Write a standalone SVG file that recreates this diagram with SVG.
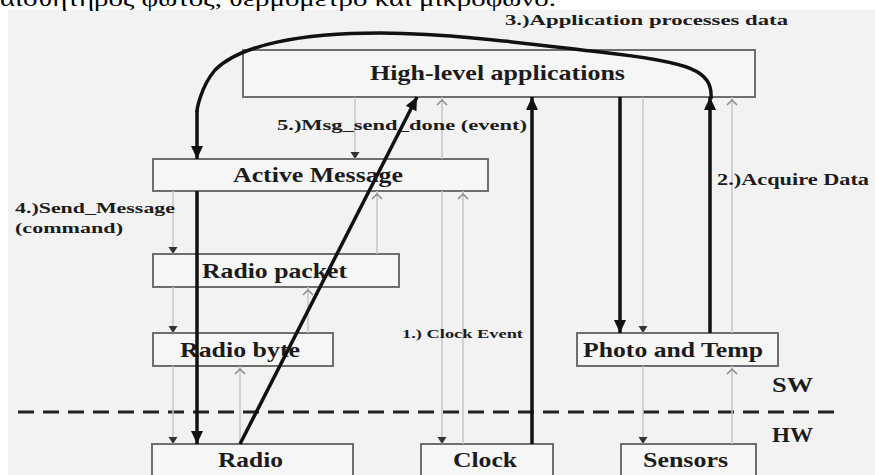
<svg xmlns="http://www.w3.org/2000/svg" width="875" height="475" viewBox="0 0 875 475">
<style>
.box{fill:#f6f6f6;stroke:#6e6e6e;stroke-width:2}
.lbl{font-family:"Liberation Serif","Times New Roman",serif;font-weight:bold;fill:#1c1c1c}
.thick{fill:none;stroke:#111;stroke-width:3.5}
.thin{fill:none;stroke:#c6c6c6;stroke-width:1.5}
.dn{marker-end:url(#tri)}
.up{marker-end:url(#chev)}
</style>
<defs>
<marker id="big" markerUnits="userSpaceOnUse" markerWidth="16" markerHeight="14" viewBox="0 -7 14 14" refX="13" refY="0" orient="auto"><path d="M0,-6 L13,0 L0,6 Z" fill="#111"/></marker>
<marker id="tri" markerUnits="userSpaceOnUse" markerWidth="10" markerHeight="10" viewBox="0 -5 8 10" refX="7" refY="0" orient="auto"><path d="M0,-4.5 L7,0 L0,4.5 Z" fill="#333"/></marker>
<marker id="chev" markerUnits="userSpaceOnUse" markerWidth="12" markerHeight="14" viewBox="-8 -7 12 14" refX="3" refY="0" orient="auto"><path d="M-5,-5 L0,0 L-5,5" fill="none" stroke="#8a8a8a" stroke-width="1.5"/></marker>
</defs>
<rect x="0" y="0" width="875" height="475" fill="#ffffff"/>
<rect x="8" y="10" width="867" height="465" fill="#f2f2f2"/>
<text x="0" y="6" font-family="'Liberation Serif','Times New Roman',serif" font-size="22" fill="#000" textLength="556" lengthAdjust="spacingAndGlyphs">αισθητήρος φωτός, θερμόμετρο και μικρόφωνο.</text>

<g id="layer-divider">
<line x1="18" y1="412" x2="842" y2="412" stroke="#222" stroke-width="3" stroke-dasharray="16 9"/>
<text class="lbl" x="772" y="392" font-size="20" textLength="41" lengthAdjust="spacingAndGlyphs">SW</text>
<text class="lbl" x="772" y="442" font-size="20" textLength="41" lengthAdjust="spacingAndGlyphs">HW</text>
</g>

<g id="high-level">
<rect class="box" x="243" y="50" width="512" height="47"/>
<text class="lbl" x="370" y="80" font-size="22" textLength="255" lengthAdjust="spacingAndGlyphs">High-level applications</text>
</g>
<g id="active-message">
<rect class="box" x="153" y="159" width="335" height="32"/>
<text class="lbl" x="233" y="182" font-size="20" textLength="170" lengthAdjust="spacingAndGlyphs">Active Message</text>
</g>
<g id="radio-packet">
<rect class="box" x="153" y="254" width="246" height="33"/>
<text class="lbl" x="202" y="278" font-size="21" textLength="145" lengthAdjust="spacingAndGlyphs">Radio packet</text>
</g>
<g id="radio-byte">
<rect class="box" x="153" y="333" width="180" height="33"/>
<text class="lbl" x="180" y="357" font-size="21" textLength="120" lengthAdjust="spacingAndGlyphs">Radio byte</text>
</g>
<g id="photo-temp">
<rect class="box" x="577" y="333" width="201" height="33"/>
<text class="lbl" x="583" y="357" font-size="21" textLength="180" lengthAdjust="spacingAndGlyphs">Photo and Temp</text>
</g>
<g id="radio">
<rect class="box" x="152" y="444" width="201" height="40"/>
<text class="lbl" x="218" y="467" font-size="21" textLength="65" lengthAdjust="spacingAndGlyphs">Radio</text>
</g>
<g id="clock">
<rect class="box" x="421" y="444" width="132" height="40"/>
<text class="lbl" x="453" y="467" font-size="21" textLength="64" lengthAdjust="spacingAndGlyphs">Clock</text>
</g>
<g id="sensors">
<rect class="box" x="621" y="444" width="135" height="40"/>
<text class="lbl" x="643" y="467" font-size="21" textLength="85" lengthAdjust="spacingAndGlyphs">Sensors</text>
</g>

<g id="connectors">
<g id="thin-flows">
<line class="thin dn" x1="355" y1="97" x2="355" y2="159"/>
<line class="thin up" x1="442" y1="159" x2="442" y2="97"/>
<line class="thin dn" x1="442" y1="191" x2="442" y2="444"/>
<line class="thin up" x1="463" y1="444" x2="463" y2="191"/>
<line class="thin up" x1="377" y1="254" x2="377" y2="191"/>
<line class="thin dn" x1="173" y1="191" x2="173" y2="254"/>
<line class="thin up" x1="308" y1="333" x2="308" y2="287"/>
<line class="thin dn" x1="173" y1="287" x2="173" y2="333"/>
<line class="thin up" x1="240" y1="444" x2="240" y2="366"/>
<line class="thin dn" x1="173" y1="366" x2="173" y2="444"/>
<line class="thin dn" x1="643" y1="97" x2="643" y2="333"/>
<line class="thin dn" x1="643" y1="366" x2="643" y2="444"/>
<line class="thin up" x1="732" y1="333" x2="732" y2="97"/>
<line class="thin up" x1="732" y1="444" x2="732" y2="366"/>
</g>
<g id="main-flows">
<path class="thick" marker-end="url(#big)" d="M532,444 L532,97"/>
<path class="thick" marker-end="url(#big)" d="M710,333 L710,97"/>
<path class="thick" marker-end="url(#big)" d="M620,97 L620,333"/>
<path class="thick" d="M711,99 C713,70 690,62 600,52 C530,44 460,34 380,33 C300,33 240,45 215,70 C200,88 197,110 197,112"/>
<path class="thick" marker-end="url(#big)" d="M197,110 L197,159"/>
<path class="thick" marker-end="url(#big)" d="M197,191 L197,444"/>
<path class="thick" marker-end="url(#big)" d="M240,444 L417,97"/>
</g>
<g id="flow-labels">
<text class="lbl" x="505" y="25" font-size="14" textLength="283" lengthAdjust="spacingAndGlyphs">3.)Application processes data</text>
<text class="lbl" x="277" y="130" font-size="15" textLength="250" lengthAdjust="spacingAndGlyphs">5.)Msg_send_done (event)</text>
<text class="lbl" x="717" y="185" font-size="16" textLength="152" lengthAdjust="spacingAndGlyphs">2.)Acquire Data</text>
<text class="lbl" x="15" y="213" font-size="15" textLength="160" lengthAdjust="spacingAndGlyphs">4.)Send_Message</text>
<text class="lbl" x="15" y="233" font-size="15" textLength="108" lengthAdjust="spacingAndGlyphs">(command)</text>
<text class="lbl" x="402" y="338" font-size="12" textLength="121" lengthAdjust="spacingAndGlyphs">1.) Clock Event</text>
</g>
</g>
</svg>
